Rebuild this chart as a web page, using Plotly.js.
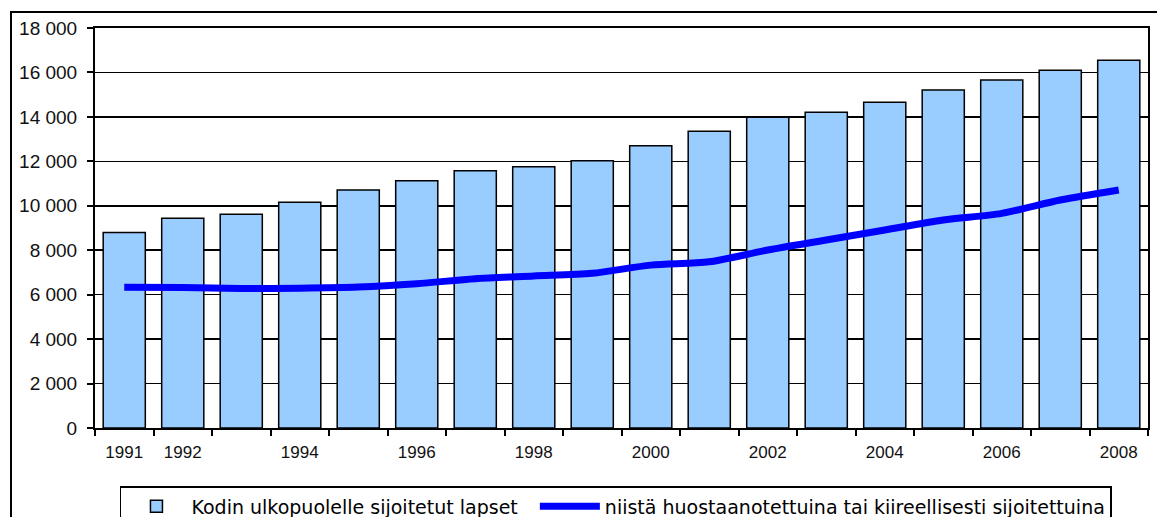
<!DOCTYPE html>
<html>
<head>
<meta charset="utf-8">
<script src="https://cdn.plot.ly/plotly-3.0.1.min.js"></script>
<style>
  html, body { margin: 0; padding: 0; background: #fff; }
  #wrap { position: relative; width: 1157px; height: 517px; overflow: hidden; }
  #chart { position: absolute; left: 0; top: 0; width: 1157px; height: 517px; }
  #frame { position: absolute; left: 10px; top: 11px; width: 1200px; height: 600px;
           border-left: 2px solid #000; border-top: 2px solid #000; pointer-events: none; }
</style>
</head>
<body>
<div id="wrap">
  <div id="chart"></div>
  <div id="frame"></div>
</div>
<script>
// Data
const years = [1991, 1992, 1993, 1994, 1995, 1996, 1997, 1998, 1999,
               2000, 2001, 2002, 2003, 2004, 2005, 2006, 2007, 2008];
const placedOutsideHome = [8800, 9440, 9620, 10160, 10710, 11130, 11580, 11760, 12030,
                           12700, 13350, 13980, 14210, 14660, 15210, 15660, 16100, 16550];
const custodyOrEmergency = [6330, 6320, 6280, 6290, 6340, 6490, 6720, 6840, 6960,
                            7330, 7480, 8010, 8460, 8910, 9360, 9660, 10260, 10710];
const tickYears = [1991, 1992, 1994, 1996, 1998, 2000, 2002, 2004, 2006, 2008];
const seriesNames = ["Kodin ulkopuolelle sijoitetut lapset",
                     "niistä huostaanotettuina tai kiireellisesti sijoitettuina"];

const font = "Liberation Sans, Arial, sans-serif";
const legendFont = "DejaVu Sans, Liberation Sans, sans-serif";

const traces = [
  {
    type: "bar",
    x: years,
    y: placedOutsideHome,
    name: seriesNames[0] + "\u00a0\u00a0",
    marker: { color: "#99CCFF", line: { color: "#000", width: 1.5 } },
    hoverinfo: "x+y"
  },
  {
    type: "scatter",
    mode: "lines",
    x: years,
    y: custodyOrEmergency,
    name: seriesNames[1],
    line: { color: "#0000FF", width: 7, shape: "spline", smoothing: 0.8 },
    hoverinfo: "x+y"
  }
];

const layout = {
  width: 1157,
  height: 517,
  margin: { l: 95, r: 9, t: 28, b: 89, autoexpand: false },
  paper_bgcolor: "#fff",
  plot_bgcolor: "#fff",
  separators: ", ",
  bargap: 0.28,
  showlegend: true,
  font: { family: font, color: "#000" },
  xaxis: {
    type: "linear",
    range: [1990.5, 2008.5],
    tickmode: "array",
    tickvals: tickYears,
    ticktext: tickYears.map(String),
    ticks: "",
    ticklabelstandoff: 8,
    tickfont: { family: font, size: 17, color: "#111" },
    showgrid: false,
    zeroline: false,
    showline: true,
    linecolor: "#000",
    linewidth: 2,
    mirror: true,
    minor: {
      tickmode: "linear",
      tick0: 1990.5,
      dtick: 1,
      ticks: "outside",
      ticklen: 6,
      tickwidth: 2,
      tickcolor: "#000",
      showgrid: false
    },
    fixedrange: true
  },
  yaxis: {
    range: [0, 18000],
    tickmode: "linear",
    tick0: 0,
    dtick: 2000,
    tickformat: ",d",
    exponentformat: "none",
    ticks: "outside",
    ticklen: 6,
    tickwidth: 2,
    tickcolor: "#000",
    ticklabelstandoff: 6,
    tickfont: { family: font, size: 19, color: "#111" },
    showgrid: true,
    gridcolor: "#000",
    gridwidth: 1.5,
    zeroline: false,
    showline: true,
    linecolor: "#000",
    linewidth: 2,
    mirror: true,
    fixedrange: true
  },
  legend: {
    orientation: "h",
    x: 0.0237,
    xanchor: "left",
    y: -0.145,
    yanchor: "top",
    bgcolor: "#fff",
    bordercolor: "#000",
    borderwidth: 1.5,
    itemwidth: 60,
    traceorder: "normal",
    font: { family: legendFont, size: 19, color: "#000" }
  }
};

Plotly.newPlot("chart", traces, layout, { displayModeBar: false, staticPlot: true });
</script>
</body>
</html>
